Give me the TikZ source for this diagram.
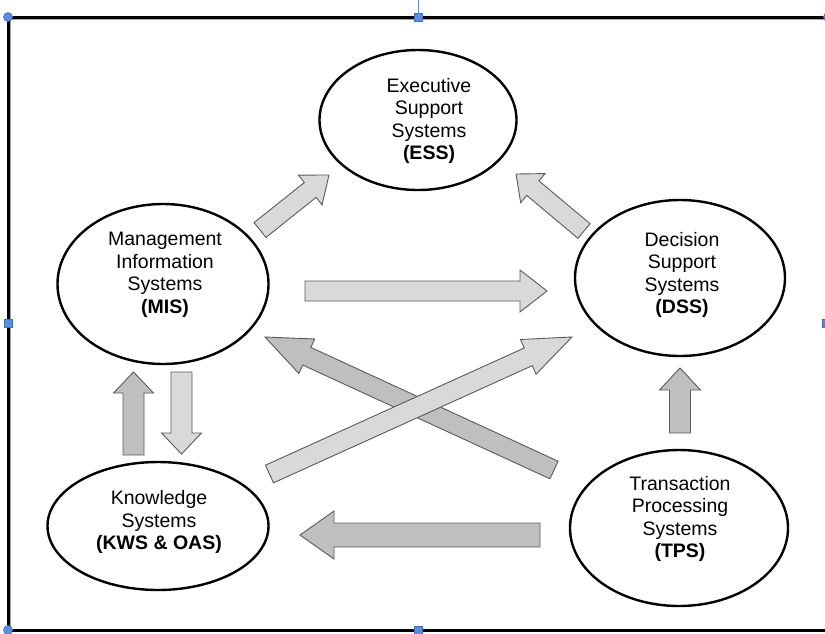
\documentclass[tikz,border=0pt]{standalone}
\usepackage{fontspec}
\setmainfont{Liberation Sans}
\usetikzlibrary{calc,shapes.geometric}

\definecolor{lightfill}{HTML}{D9D9D9}
\definecolor{darkfill}{HTML}{BFBFBF}
\definecolor{arrowedge}{HTML}{5A5A5A}
\definecolor{handleblue}{HTML}{5B8FDC}
\definecolor{handleedge}{HTML}{3E6DBA}

\tikzset{
  sysellipse/.style={ellipse, draw=black, line width=2.4pt, inner sep=0pt},
  systext/.style={align=center, inner sep=0pt, font=\fontsize{19.5}{22.6}\selectfont},
  blockedge/.style={draw=arrowedge, line width=0.9pt, line join=miter},
  handle/.style={fill=handleblue, draw=handleedge, line width=0.6pt},
}

% block arrow: fill, half shaft width, half head width, head length, tail, tip
\newcommand\blockarrow[6]{%
  \coordinate (headbase) at ($(#6)!#4!(#5)$);
  \filldraw[blockedge, fill=#1]
    ($(#5)!#2!90:(#6)$) -- ($(headbase)!#2!-90:(#5)$) -- ($(headbase)!#3!-90:(#5)$)
    -- (#6) -- ($(headbase)!#3!90:(#5)$) -- ($(headbase)!#2!90:(#5)$)
    -- ($(#5)!#2!-90:(#6)$) -- cycle;
}

\begin{document}
\begin{tikzpicture}[x=1pt, y=-1pt]
\useasboundingbox (0,0) rectangle (825,633);
\clip (0,0) rectangle (825,633);

% frame (open on the right) with its soft shadow
\draw[gray!70, line width=1.4pt] (10.5,19.5) -- (825,19.5);
\draw[gray!70, line width=1.4pt] (10.5,19.5) -- (10.5,632.5);
\draw[black, line width=3pt] (825,17) -- (8,17) -- (8,630) -- (825,630);

% systems
\node[sysellipse, minimum width=197pt, minimum height=140pt] (ess) at (418,120) {};
\node[sysellipse, minimum width=211pt, minimum height=160pt] (mis) at (163,284) {};
\node[sysellipse, minimum width=210pt, minimum height=156pt] (dss) at (680,278) {};
\node[sysellipse, minimum width=221pt, minimum height=128pt] (kws) at (158,526) {};
\node[sysellipse, minimum width=218pt, minimum height=156pt] (tps) at (679,528) {};

\node[systext] (essT) at (429,121) {Executive\\Support\\Systems\\\textbf{(ESS)}};
\node[systext] (misT) at (165,275) {Management\\Information\\Systems\\\textbf{(MIS)}};
\node[systext] (dssT) at (682,275) {Decision\\Support\\Systems\\\textbf{(DSS)}};
\node[systext] (kwsT) at (159,522) {Knowledge\\Systems\\\textbf{(KWS \& OAS)}};
\node[systext] (tpsT) at (680,519) {Transaction\\Processing\\Systems\\\textbf{(TPS)}};

% arrow end points
\coordinate (misEssT) at (260,230);  \coordinate (misEssH) at (329,175);
\coordinate (dssEssT) at (584,231);  \coordinate (dssEssH) at (516,174);
\coordinate (misDssT) at (305,291);  \coordinate (misDssH) at (547,291);
\coordinate (tpsMisT) at (554,470);  \coordinate (tpsMisH) at (265,337);
\coordinate (kwsDssT) at (269.5,474);\coordinate (kwsDssH) at (572,337);
\coordinate (kwsMisT) at (133.5,455);\coordinate (kwsMisH) at (133.5,372);
\coordinate (misKwsT) at (181.5,372);\coordinate (misKwsH) at (181.5,454);
\coordinate (tpsDssT) at (680,433);  \coordinate (tpsDssH) at (680,368);
\coordinate (tpsKwsT) at (540,535);  \coordinate (tpsKwsH) at (300,535);

% information flows
\blockarrow{lightfill}{9.5pt}{19pt}{24pt}{misEssT}{misEssH}
\blockarrow{lightfill}{9.5pt}{19pt}{22pt}{dssEssT}{dssEssH}
\blockarrow{lightfill}{10pt}{21pt}{27pt}{misDssT}{misDssH}
\blockarrow{darkfill}{9.7pt}{19pt}{46pt}{tpsMisT}{tpsMisH}
\blockarrow{lightfill}{9.7pt}{19pt}{48pt}{kwsDssT}{kwsDssH}
\blockarrow{darkfill}{10.5pt}{20pt}{21pt}{kwsMisT}{kwsMisH}
\blockarrow{lightfill}{10.5pt}{20pt}{21pt}{misKwsT}{misKwsH}
\blockarrow{darkfill}{10.5pt}{20.5pt}{22pt}{tpsDssT}{tpsDssH}
\blockarrow{darkfill}{12pt}{24pt}{34pt}{tpsKwsT}{tpsKwsH}

% selection handles
\draw[handleblue, line width=0.9pt] (418,0) -- (418,13);
\node[handle, circle, minimum size=9pt, inner sep=0pt] (hTL) at (8,17) {};
\node[handle, circle, minimum size=9pt, inner sep=0pt] (hBL) at (8,630) {};
\node[handle, circle, minimum size=9pt, inner sep=0pt] (hTR) at (828,17) {};
\node[handle, minimum size=8pt, inner sep=0pt] (hT) at (418,17) {};
\node[handle, minimum size=8pt, inner sep=0pt] (hB) at (418,630) {};
\node[handle, minimum size=8pt, inner sep=0pt] (hL) at (8,323) {};
\node[handle, minimum size=8pt, inner sep=0pt] (hR) at (826,323) {};
\end{tikzpicture}
\end{document}
